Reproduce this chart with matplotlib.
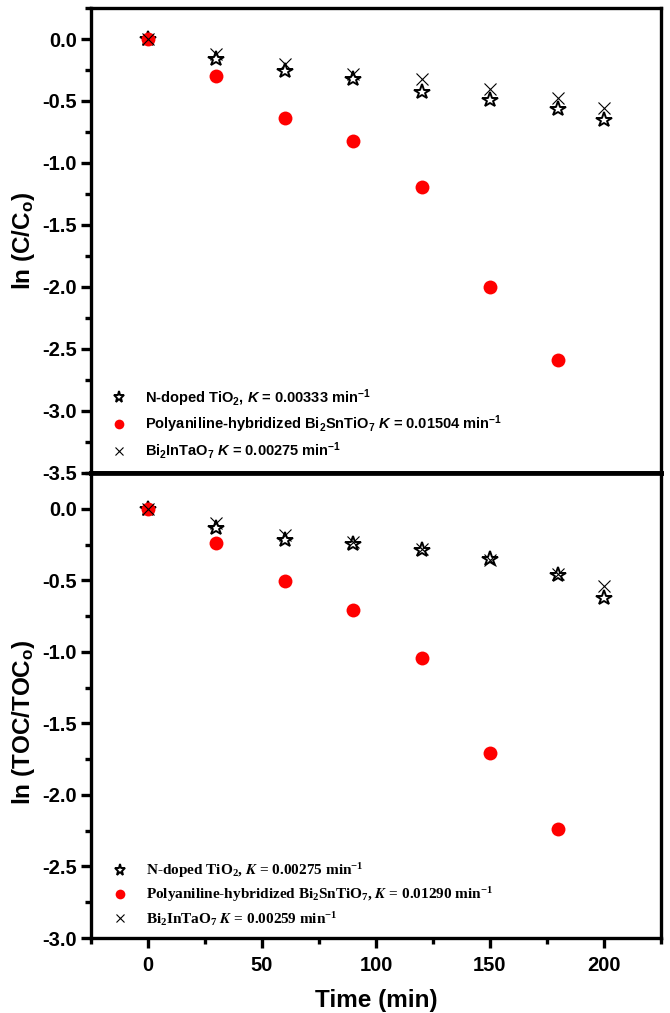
import matplotlib
matplotlib.use('Agg')
import matplotlib.pyplot as plt
from matplotlib.font_manager import FontProperties
from matplotlib.ticker import MultipleLocator

plt.rcParams['font.family'] = ['Liberation Sans', 'DejaVu Sans']
plt.rcParams['font.weight'] = 'bold'
plt.rcParams['axes.unicode_minus'] = False
plt.rcParams['mathtext.fontset'] = 'custom'
plt.rcParams['mathtext.rm'] = 'Liberation Sans:bold'
plt.rcParams['mathtext.it'] = 'Liberation Sans:bold:italic'
plt.rcParams['mathtext.bf'] = 'Liberation Sans:bold'
plt.rcParams['mathtext.default'] = 'regular'

# ---------------- data ----------------
time = [0, 30, 60, 90, 120, 150, 180, 200]
time_poly = [0, 30, 60, 90, 120, 150, 180]

# top panel: ln(C/Co)
c_ntio2 = [0.0, -0.16, -0.26, -0.325, -0.427, -0.495, -0.562, -0.656]
c_poly = [0.0, -0.30, -0.64, -0.823, -1.19, -2.0, -2.59]
c_bi2intao7 = [0.0, -0.12, -0.20, -0.28, -0.32, -0.40, -0.476, -0.556]

# bottom panel: ln(TOC/TOCo)
toc_ntio2 = [0.0, -0.134, -0.216, -0.244, -0.29, -0.35, -0.462, -0.627]
toc_poly = [0.0, -0.239, -0.502, -0.709, -1.043, -1.708, -2.24]
toc_bi2intao7 = [0.0, -0.103, -0.18, -0.235, -0.28, -0.36, -0.455, -0.537]

top_labels = [r'N-doped TiO$_2$, $\mathit{K}$ = 0.00333 min$^{-1}$',
              r'Polyaniline-hybridized Bi$_2$SnTiO$_7$ $\mathit{K}$ = 0.01504 min$^{-1}$',
              r'Bi$_2$InTaO$_7$ $\mathit{K}$ = 0.00275 min$^{-1}$']
bottom_labels = [r'N-doped TiO$_2$, $\mathbfit{K}$ = 0.00275 min$^{-1}$',
                 r'Polyaniline-hybridized Bi$_2$SnTiO$_7$, $\mathbfit{K}$ = 0.01290 min$^{-1}$',
                 r'Bi$_2$InTaO$_7$ $\mathbfit{K}$ = 0.00259 min$^{-1}$']

x_ticks = [0, 50, 100, 150, 200]

fig = plt.figure(figsize=(6.7, 10.13), dpi=100)
ax1 = fig.add_axes([0.1358, 0.5331, 0.8507, 0.459])
ax2 = fig.add_axes([0.1358, 0.0740, 0.8507, 0.4591])

star_kw = dict(ls='none', marker='*', ms=11.5, mfc='white', mec='black', mew=1.4, zorder=3)
circ_kw = dict(ls='none', marker='o', ms=10, mfc='#ff0000', mec='#ff0000', mew=0, zorder=4)
x_kw = dict(ls='none', marker='x', ms=8.5, mec='black', mew=0.8, zorder=5)


def panel(ax, ys, yp, yx, labels, prop, ylim, ylabel):
    ax.plot(time, ys, label=labels[0], **star_kw)
    ax.plot(time_poly, yp, label=labels[1], **circ_kw)
    ax.plot(time, yx, label=labels[2], **x_kw)
    ax.set_xlim(-25, 225)
    ax.set_ylim(*ylim)
    ax.set_xticks(x_ticks)
    ax.xaxis.set_minor_locator(MultipleLocator(25))
    ax.yaxis.set_major_locator(MultipleLocator(0.5))
    ax.yaxis.set_minor_locator(MultipleLocator(0.25))
    ax.yaxis.set_major_formatter(matplotlib.ticker.FormatStrFormatter('%.1f'))
    for s in ax.spines.values():
        s.set_linewidth(2.4)
    ax.tick_params(which='major', direction='out', length=7, width=2.4, labelsize=14.5, pad=3)
    ax.tick_params(which='minor', direction='out', length=4, width=2.4)
    ax.set_ylabel(ylabel, fontsize=17.5, fontweight='bold')
    leg = ax.legend(loc='lower left', frameon=False, prop=prop, markerscale=0.7,
                    handlelength=1.0, handletextpad=1.25, labelspacing=0.35,
                    borderpad=0, borderaxespad=0)
    return leg


top_prop = FontProperties(family='Liberation Sans', weight='bold', size=10.5)
bot_prop = FontProperties(family='Liberation Serif', weight='bold', size=11,
                          math_fontfamily='stix')

leg1 = panel(ax1, c_ntio2, c_poly, c_bi2intao7, top_labels, top_prop, (-3.5, 0.25),
             r'ln (C/C$_o$)')
leg1.set_bbox_to_anchor((0.037, 0.025), transform=ax1.transAxes)
ax1.tick_params(axis='x', which='both', bottom=False, labelbottom=False)
ax1.spines['bottom'].set_linewidth(3.4)
ax1.yaxis.set_label_coords(-0.095, 0.5)

leg2 = panel(ax2, toc_ntio2, toc_poly, toc_bi2intao7, bottom_labels, bot_prop, (-3.0, 0.25),
             r'ln (TOC/TOC$_o$)')
leg2.set_bbox_to_anchor((0.037, 0.022), transform=ax2.transAxes)
ax2.spines['top'].set_linewidth(3.4)
ax2.tick_params(axis='x', which='major', pad=6)
ax2.yaxis.set_label_coords(-0.095, 0.465)
ax2.set_xlabel('Time (min)', fontsize=17.5, fontweight='bold', labelpad=10)

fig.savefig('out.png', dpi=100)
